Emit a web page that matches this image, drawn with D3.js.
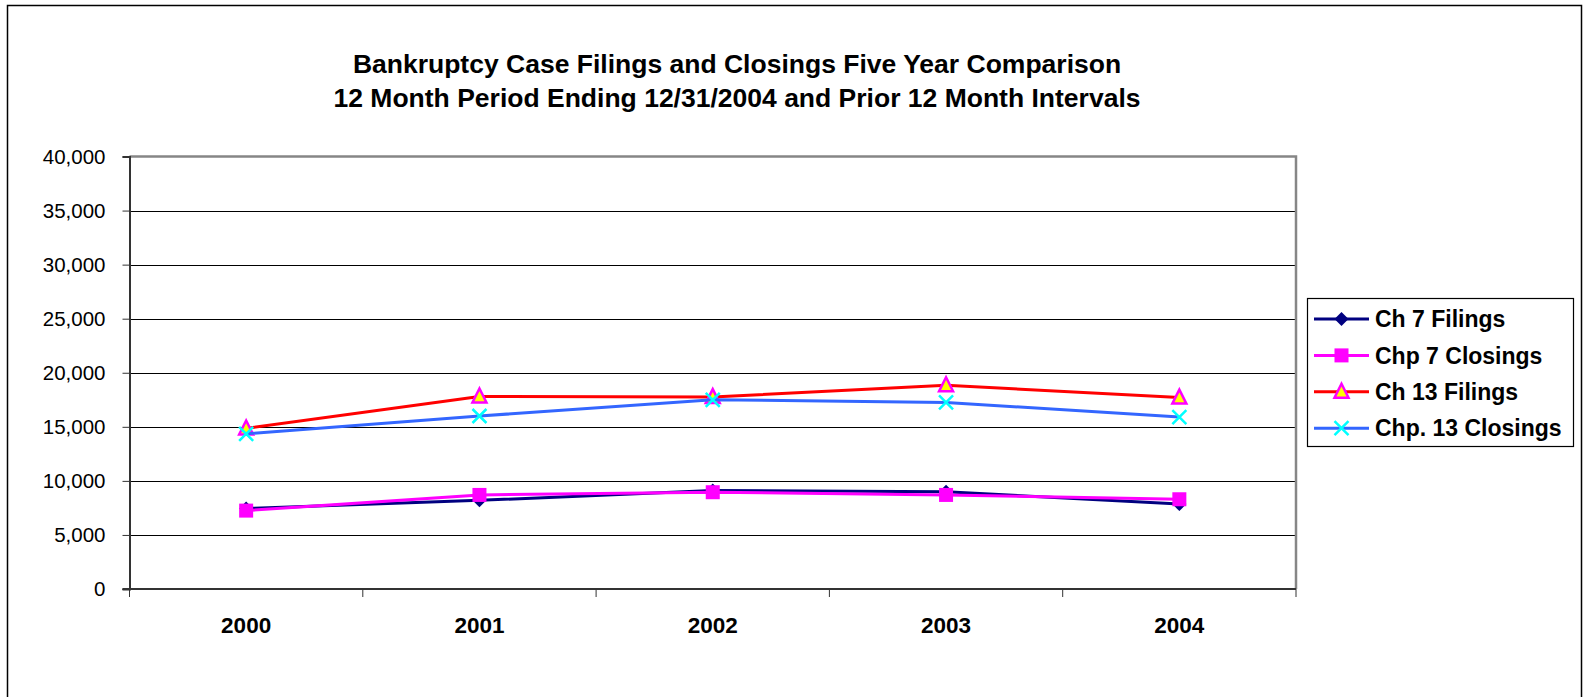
<!DOCTYPE html>
<html lang="en">
<head>
  <meta charset="utf-8">
  <title>Bankruptcy Case Filings and Closings</title>
<style>
  body { margin: 0; background: #fff; }
  svg { display: block; font-family: "Liberation Sans", Arial, sans-serif; }
  .grid line { stroke: #000; stroke-width: 1; }
  .legend text { font-size: 23px; font-weight: bold; }
</style>
  <script src="https://d3js.org/d3.v7.min.js"></script>
</head>
<body>
<svg width="1583" height="697"></svg>
<script>
  // data
  var years = ["2000", "2001", "2002", "2003", "2004"];
  var ch7Filings = [7450, 8200, 9100, 9000, 7850];
  var chp7Closings = [7250, 8700, 8950, 8700, 8300];
  var ch13Filings = [14850, 17800, 17750, 18850, 17700];
  var chp13Closings = [14350, 16000, 17500, 17250, 15900];
  var seriesNames = ["Ch 7 Filings", "Chp 7 Closings", "Ch 13 Filings", "Chp. 13 Closings"];
  var yTicks = [0, 5000, 10000, 15000, 20000, 25000, 30000, 35000, 40000];
  var titleLines = ["Bankruptcy Case Filings and Closings Five Year Comparison",
                    "12 Month Period Ending 12/31/2004 and Prior 12 Month Intervals"];

  var series = [
    {name: seriesNames[0], values: ch7Filings, color: "#000080", marker: "diamond"},
    {name: seriesNames[1], values: chp7Closings, color: "#ff00ff", marker: "square"},
    {name: seriesNames[2], values: ch13Filings, color: "#ff0000", marker: "triangle"},
    {name: seriesNames[3], values: chp13Closings, color: "#3366ff", marker: "cross"}
  ];

  var svg = d3.select("svg");

  // outer chart border
  svg.append("rect")
    .attr("x", 7.5).attr("y", 5.5)
    .attr("width", 1574).attr("height", 720)
    .attr("fill", "none").attr("stroke", "#000").attr("stroke-width", 1.5);

  // title
  svg.append("g").selectAll("text")
    .data(titleLines)
    .enter().append("text")
      .attr("x", 737)
      .attr("y", function(d, i) { return 73 + i * 33.5; })
      .attr("text-anchor", "middle")
      .style("font-size", "26.5px")
      .style("font-weight", "bold")
      .text(function(d) { return d; });

  var plotLeft = 129.5, plotRight = 1296, plotTop = 156.5, plotBottom = 589;

  var x = d3.scaleBand().domain(years).range([plotLeft, plotRight]).padding(0);
  var y = d3.scaleLinear().domain([0, 40000]).range([plotBottom, plotTop]);

  // gridlines
  svg.append("g").attr("class", "grid")
    .selectAll("line")
    .data(yTicks.filter(function(t) { return t > 0 && t < 40000; }))
    .enter().append("line")
      .attr("x1", plotLeft).attr("x2", plotRight)
      .attr("y1", function(d) { return Math.round(y(d)) + 0.5; })
      .attr("y2", function(d) { return Math.round(y(d)) + 0.5; });

  // plot area border (top/right)
  svg.append("path")
    .attr("d", "M" + plotLeft + "," + plotTop + "H" + plotRight + "V" + plotBottom)
    .attr("fill", "none").attr("stroke", "#868686").attr("stroke-width", 2.5);

  // y axis
  var yAxis = d3.axisLeft(y)
    .tickValues(yTicks)
    .tickSize(7)
    .tickPadding(17)
    .tickFormat(d3.format(","));
  var gy = svg.append("g")
    .attr("transform", "translate(" + plotLeft + ",0)")
    .call(yAxis);
  gy.select(".domain").attr("stroke", "#333").attr("stroke-width", 2);
  gy.selectAll(".tick line").attr("stroke", "#333");
  gy.selectAll(".tick text")
    .style("font-size", "20.5px")
    .style("font-family", "'Liberation Sans', Arial, sans-serif")
    .attr("fill", "#000");

  // x axis: ticks at category boundaries
  var gx = svg.append("g").attr("transform", "translate(0," + plotBottom + ")");
  gx.append("line")
    .attr("x1", plotLeft - 7).attr("x2", plotRight)
    .attr("stroke", "#333").attr("stroke-width", 2);
  gx.selectAll(".xtick")
    .data(years.concat(["end"]))
    .enter().append("line")
      .attr("class", "xtick")
      .attr("x1", function(d, i) { return i < years.length ? x(d) : plotRight; })
      .attr("x2", function(d, i) { return i < years.length ? x(d) : plotRight; })
      .attr("y1", 0).attr("y2", 8)
      .attr("stroke", "#333").attr("stroke-width", 1);
  gx.selectAll(".xlabel")
    .data(years)
    .enter().append("text")
      .attr("class", "xlabel")
      .attr("x", function(d) { return x(d) + x.bandwidth() / 2; })
      .attr("y", 44)
      .attr("text-anchor", "middle")
      .style("font-size", "22.5px")
      .style("font-weight", "bold")
      .text(function(d) { return d; });

  // markers
  function drawMarker(g, type, color, cx, cy) {
    if (type === "diamond") {
      g.append("path")
        .attr("d", "M" + cx + "," + (cy - 7) + "L" + (cx + 7) + "," + cy + "L" + cx + "," + (cy + 7) + "L" + (cx - 7) + "," + cy + "Z")
        .attr("fill", color);
    } else if (type === "square") {
      g.append("rect")
        .attr("x", cx - 7).attr("y", cy - 7)
        .attr("width", 14).attr("height", 14)
        .attr("fill", color);
    } else if (type === "triangle") {
      g.append("path")
        .attr("d", "M" + cx + "," + (cy - 8) + "L" + (cx + 7) + "," + (cy + 6) + "L" + (cx - 7) + "," + (cy + 6) + "Z")
        .attr("fill", "#ffff00").attr("stroke", "#ff00ff").attr("stroke-width", 2.5)
        .attr("stroke-linejoin", "miter");
    } else {
      g.append("path")
        .attr("d", "M" + (cx - 7) + "," + (cy - 7) + "L" + (cx + 7) + "," + (cy + 7) + "M" + (cx + 7) + "," + (cy - 7) + "L" + (cx - 7) + "," + (cy + 7))
        .attr("stroke", "#00ffff").attr("stroke-width", 2.5).attr("fill", "none");
    }
  }

  var line = d3.line()
    .x(function(d, i) { return x(years[i]) + x.bandwidth() / 2; })
    .y(function(d) { return y(d); });

  series.forEach(function(s) {
    var g = svg.append("g");
    g.append("path")
      .attr("d", line(s.values))
      .attr("fill", "none")
      .attr("stroke", s.color)
      .attr("stroke-width", 3);
    s.values.forEach(function(v, i) {
      drawMarker(g, s.marker, s.color, x(years[i]) + x.bandwidth() / 2, y(v));
    });
  });

  // legend
  var legend = svg.append("g").attr("class", "legend");
  legend.append("rect")
    .attr("x", 1307.5).attr("y", 298.5)
    .attr("width", 266).attr("height", 148)
    .attr("fill", "#fff").attr("stroke", "#000").attr("stroke-width", 1.2);
  series.forEach(function(s, i) {
    var cy = 319 + i * 36.4;
    var g = legend.append("g");
    g.append("line")
      .attr("x1", 1314).attr("x2", 1369)
      .attr("y1", cy).attr("y2", cy)
      .attr("stroke", s.color).attr("stroke-width", 3);
    drawMarker(g, s.marker, s.color, 1341.5, cy);
    g.append("text")
      .attr("x", 1375).attr("y", cy)
      .attr("dy", "0.36em")
      .text(s.name);
  });
</script>
</body>
</html>
